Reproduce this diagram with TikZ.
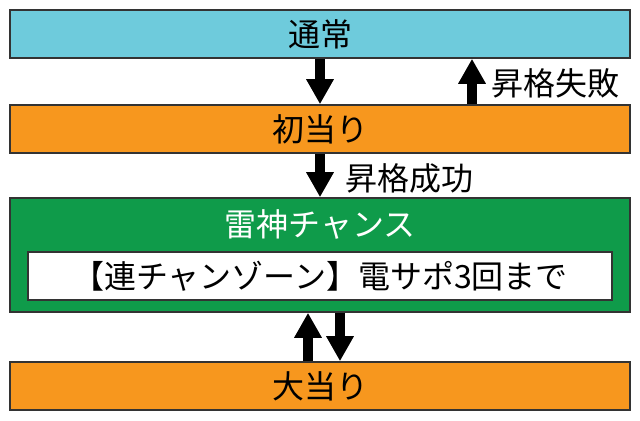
\documentclass[tikz,border=0pt]{standalone}
\usepackage{fontspec}
\newfontfamily\jpfont{Noto Sans CJK JP}
\usetikzlibrary{arrows.meta}
\definecolor{tsujocol}{RGB}{110,203,220}
\definecolor{atarcol}{RGB}{247,151,30}
\definecolor{raijincol}{RGB}{15,155,74}
\tikzset{>={Triangle[width=13pt,length=12.5pt]}}
\tikzset{state/.style = {draw=black!80,line width=0.8pt,minimum width=310pt,minimum height=24pt,inner sep=0pt,font=\jpfont\fontsize{16pt}{19pt}\selectfont}}
\tikzset{lab/.style = {anchor=west,inner sep=0pt,font=\jpfont\fontsize{16pt}{19pt}\selectfont}}
\tikzset{fat/.style = {->,line width=5pt}}
\begin{document}
\begin{tikzpicture}[x=0.5pt,y=-0.5pt]
                    \useasboundingbox (0,0) rectangle (640,421);
                    \node[state,fill=tsujocol] (tsujo) at (320,34) {通常};
                    \node[state,fill=atarcol] (hatsu) at (320,129) {初当り};
                    \node[state,fill=raijincol,minimum height=57pt] (raijin) at (320,255) {};
                    \node[lab,anchor=center,text=white] (title) at (320,225) {雷神チャンス};
                    \node[state,fill=white,minimum width=292pt] (zone) at (320,276) {【連チャンゾーン】電サポ3回まで};
                    \node[state,fill=atarcol] (oatari) at (320,386) {大当り};

                    \draw[fat] (tsujo.south) -- (hatsu.north);
                    \draw[fat] ([xshift=76pt]hatsu.north) -- ([xshift=76pt]tsujo.south);
                    \node[lab] (fail) at (491,83) {昇格失敗};

                    \draw[fat] (hatsu.south) -- (raijin.north);
                    \node[lab] (success) at (345,178) {昇格成功};

                    \draw[fat] ([xshift=-6pt]oatari.north) -- ([xshift=-6pt]raijin.south);
                    \draw[fat] ([xshift=10pt]raijin.south) -- ([xshift=10pt]oatari.north);
                \end{tikzpicture}
\end{document}
